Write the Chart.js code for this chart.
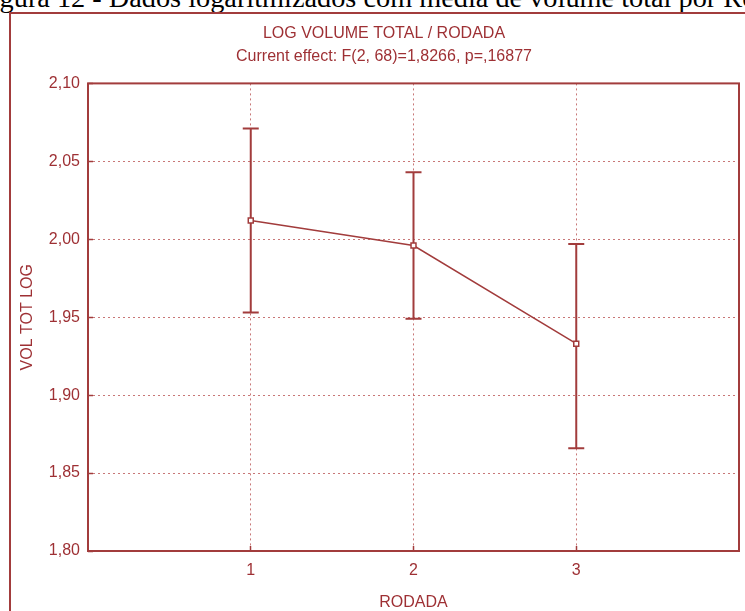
<!DOCTYPE html>
<html lang="pt">
<head>
<meta charset="utf-8">
<title>LOG VOLUME TOTAL / RODADA</title>
<script src="https://cdn.jsdelivr.net/npm/chart.js@4.4.1/dist/chart.umd.min.js"></script>
<style>
  html, body { margin: 0; padding: 0; background: #fff; overflow: hidden; }
  #pagina { position: relative; width: 745px; height: 611px; overflow: hidden; }
  #legenda { position: absolute; left: -24px; top: -15.6px; font: 28.3px/28px "Liberation Serif", serif; color: #000; white-space: nowrap; }
  #moldura { position: absolute; left: 9px; top: 12px; width: 800px; height: 700px; border: 2px solid #a23c3c; }
  #grafico { position: absolute; left: 0; top: 0; }
</style>
</head>
<body>
<div id="pagina">
  <div id="legenda">Figura 12 - Dados logaritmizados com média de volume total por Rodada</div>
  <div id="moldura"></div>
  <canvas id="grafico" width="745" height="611"></canvas>
</div>
<script>
// dados do gráfico (médias e intervalos por rodada)
var rodadas = [1, 2, 3];
var medias = [2.012, 1.996, 1.933];
var limSup = [2.071, 2.043, 1.997];
var limInf = [1.953, 1.949, 1.866];

// ticks dos eixos
var xTicks = [1, 2, 3];
var yTicks = [1.80, 1.85, 1.90, 1.95, 2.00, 2.05, 2.10];

var cor = '#a23c3c';
var corTexto = '#9e3034';
var corGrade = 'rgba(190, 95, 95, 0.85)';
var fonte = '"Liberation Sans", Arial, sans-serif';

// barras de erro desenhadas antes da linha e dos pontos
var barrasErro = {
    id: 'barrasErro',
    beforeDatasetsDraw: function (chart) {
        var ctx = chart.ctx;
        var x = chart.scales.x;
        var y = chart.scales.y;
        ctx.save();
        ctx.strokeStyle = cor;
        ctx.lineWidth = 2;
        rodadas.forEach(function (r, i) {
            var px = x.getPixelForValue(r);
            var pSup = y.getPixelForValue(limSup[i]);
            var pInf = y.getPixelForValue(limInf[i]);
            ctx.beginPath();
            ctx.moveTo(px, pSup);
            ctx.lineTo(px, pInf);
            ctx.moveTo(px - 8, pSup);
            ctx.lineTo(px + 8, pSup);
            ctx.moveTo(px - 8, pInf);
            ctx.lineTo(px + 8, pInf);
            ctx.stroke();
        });
        ctx.restore();
    }
};

// moldura da área do gráfico
var moldura = {
    id: 'moldura',
    beforeDatasetsDraw: function (chart) {
        var a = chart.chartArea;
        var ctx = chart.ctx;
        ctx.save();
        ctx.strokeStyle = cor;
        ctx.lineWidth = 2;
        ctx.strokeRect(a.left, a.top, a.right - a.left, a.bottom - a.top);
        ctx.restore();
    }
};

new Chart(document.getElementById('grafico'), {
    type: 'line',
    data: {
        datasets: [{
            data: rodadas.map(function (r, i) { return { x: r, y: medias[i] }; }),
            borderColor: cor,
            borderWidth: 1.5,
            tension: 0,
            fill: false,
            pointStyle: 'rect',
            pointRadius: 3.5,
            pointBorderWidth: 1.5,
            pointBackgroundColor: '#fff',
            pointBorderColor: cor
        }]
    },
    options: {
        responsive: false,
        animation: false,
        devicePixelRatio: 1,
        layout: { padding: { left: 29, right: 6, top: 0, bottom: 0 } },
        plugins: {
            legend: { display: false },
            tooltip: { enabled: false },
            title: {
                display: true,
                text: 'LOG VOLUME TOTAL / RODADA',
                color: corTexto,
                font: { family: fonte, size: 16, weight: 'normal' },
                padding: { top: 24, bottom: 2 }
            },
            subtitle: {
                display: true,
                text: 'Current effect: F(2, 68)=1,8266, p=,16877',
                color: corTexto,
                font: { family: fonte, size: 16, weight: 'normal' },
                padding: { top: 2, bottom: 17 }
            }
        },
        scales: {
            x: {
                type: 'linear',
                min: 0,
                max: 4,
                afterBuildTicks: function (s) { s.ticks = xTicks.map(function (v) { return { value: v }; }); },
                afterFit: function (s) { s.height = 60; },
                ticks: {
                    color: corTexto,
                    font: { family: fonte, size: 16 },
                    padding: 15,
                    callback: function (v) { return String(v); }
                },
                grid: { color: corGrade, lineWidth: 1, tickLength: -5, tickColor: cor, tickWidth: 1.5 },
                border: { display: false, dash: [2, 3] },
                title: {
                    display: true,
                    text: 'RODADA',
                    color: corTexto,
                    font: { family: fonte, size: 16 },
                    padding: { top: 0, bottom: -1 }
                }
            },
            y: {
                min: 1.8,
                max: 2.1,
                afterBuildTicks: function (s) { s.ticks = yTicks.map(function (v) { return { value: v }; }); },
                afterFit: function (s) { s.width = 59; },
                ticks: {
                    color: corTexto,
                    font: { family: fonte, size: 16 },
                    padding: 13,
                    callback: function (v) { return v.toFixed(2).replace('.', ','); }
                },
                grid: { color: corGrade, lineWidth: 1, tickLength: -5, tickColor: cor, tickWidth: 1.5 },
                border: { display: false, dash: [2, 3] },
                title: {
                    display: true,
                    text: 'VOL TOT LOG',
                    color: corTexto,
                    font: { family: fonte, size: 16 },
                    padding: { top: -10.6, bottom: 0 }
                }
            }
        }
    },
    plugins: [barrasErro, moldura]
});
</script>
</body>
</html>
